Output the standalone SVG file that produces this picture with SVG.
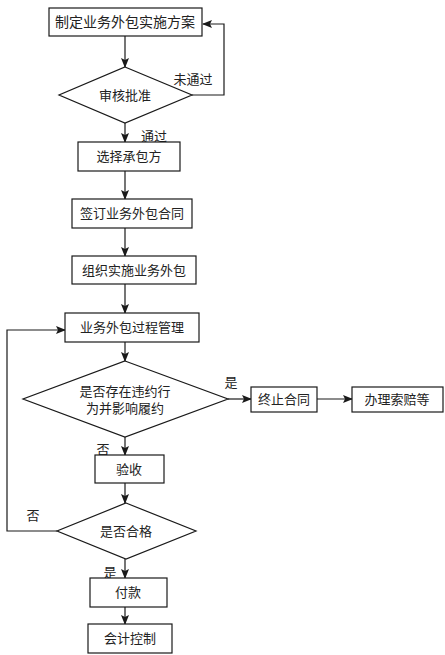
<svg xmlns="http://www.w3.org/2000/svg" width="445" height="655" viewBox="0 0 445 655">
<defs>
<marker id="ah" markerWidth="10" markerHeight="8" refX="9" refY="4" orient="auto" markerUnits="userSpaceOnUse">
<path d="M0,0 L10,4 L0,8 L2,4 Z" fill="#1a1a1a"/>
</marker>
<style>
.n{fill:#fff;stroke:#1a1a1a;stroke-width:1.2}
.c{fill:none;stroke:#1a1a1a;stroke-width:1.2;marker-end:url(#ah)}
.l{fill:none;stroke:#1a1a1a;stroke-width:1.2}
text{font-family:"Liberation Serif","Noto Sans CJK SC",serif;font-size:13px;fill:#222;text-anchor:middle;dominant-baseline:central}
</style>
</defs>
<rect width="445" height="655" fill="#fff"/>
<g id="connectors">
<line class="c" x1="125" y1="36" x2="125" y2="67"/>
<polyline class="c" points="192,95 224,95 224,24 203,24"/>
<line class="c" x1="125" y1="123" x2="125" y2="142"/>
<line class="c" x1="125" y1="171" x2="125" y2="199"/>
<line class="c" x1="125" y1="228" x2="125" y2="256"/>
<line class="c" x1="125" y1="284" x2="125" y2="313"/>
<line class="c" x1="125" y1="342" x2="125" y2="361"/>
<line class="c" x1="228" y1="399" x2="251" y2="399"/>
<line class="c" x1="317" y1="399" x2="352" y2="399"/>
<line class="c" x1="125" y1="437" x2="125" y2="455"/>
<line class="c" x1="125" y1="483" x2="125" y2="503"/>
<polyline class="c" points="57,531 7,531 7,330 65,330"/>
<line class="c" x1="125" y1="559" x2="125" y2="578"/>
<line class="c" x1="125" y1="607" x2="125" y2="624"/>
<text x="193" y="79">未通过</text>
<text x="154" y="136">通过</text>
<text x="231" y="382">是</text>
<text x="103" y="449">否</text>
<text x="33" y="515">否</text>
<text x="110" y="572">是</text>
</g>
<g id="n1"><rect class="n" x="49" y="8" width="153" height="28"/><text x="125" y="22" style="font-size:14px">制定业务外包实施方案</text></g>
<g id="n2"><polygon class="n" points="125,67 192,95 125,123 59,95"/><text x="125" y="95">审核批准</text></g>
<g id="n3"><rect class="n" x="78" y="142" width="102" height="29"/><text x="129" y="156.5">选择承包方</text></g>
<g id="n4"><rect class="n" x="72" y="199" width="120" height="29"/><text x="132" y="213.5">签订业务外包合同</text></g>
<g id="n5"><rect class="n" x="72" y="256" width="124" height="28"/><text x="134" y="270">组织实施业务外包</text></g>
<g id="n6"><rect class="n" x="65" y="313" width="134" height="29"/><text x="132" y="327.5">业务外包过程管理</text></g>
<g id="n7"><polygon class="n" points="125,361 228,399 125,437 23,399"/><text x="125" y="391">是否存在违约行</text><text x="125" y="408">为并影响履约</text></g>
<g id="n8"><rect class="n" x="251" y="387" width="66" height="25"/><text x="284" y="399.5">终止合同</text></g>
<g id="n9"><rect class="n" x="352" y="387" width="91" height="25"/><text x="397" y="399.5">办理索赔等</text></g>
<g id="n10"><rect class="n" x="95" y="455" width="69" height="28"/><text x="129" y="469">验收</text></g>
<g id="n11"><polygon class="n" points="126,503 196,531 126,559 57,531"/><text x="126" y="531">是否合格</text></g>
<g id="n12"><rect class="n" x="90" y="578" width="77" height="29"/><text x="128" y="592.5">付款</text></g>
<g id="n13"><rect class="n" x="88" y="624" width="84" height="29"/><text x="130" y="638.5">会计控制</text></g>
</svg>
